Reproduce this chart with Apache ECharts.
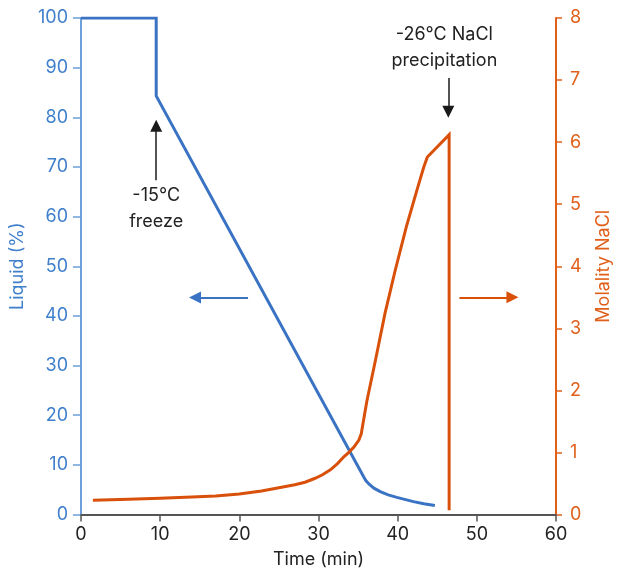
<!DOCTYPE html>
<html>
<head>
<meta charset="utf-8">
<script src="https://cdn.jsdelivr.net/npm/echarts@6/dist/echarts.min.js"></script>
<style>
  html, body { margin: 0; padding: 0; background: #ffffff; }
  #chart { width: 621px; height: 574px; }
</style>
</head>
<body>
<div id="chart"></div>
<script>
// Liquid fraction (%) over time (min), left axis
const liquidPoints = [
  [0, 100], [9.5, 100], [9.5, 84.3], [35.7, 7.6], [36.0, 6.8],
  [36.4, 6.1], [37.0, 5.3], [37.8, 4.6], [38.8, 3.95], [39.9, 3.45],
  [41.0, 3.0], [42.0, 2.6], [43.3, 2.15], [44.7, 1.8]
];

// NaCl molality over time (min), right axis
const molalityPoints = [
  [1.5, 0.23], [6, 0.245], [10, 0.26], [14, 0.28], [17, 0.30],
  [20, 0.33], [22.8, 0.38], [25, 0.43], [27, 0.48], [28.3, 0.52],
  [29.5, 0.58], [30.5, 0.64], [31.5, 0.72], [32.4, 0.82], [33.2, 0.93],
  [33.9, 1.01], [34.5, 1.09], [35.1, 1.2], [35.4, 1.3], [35.6, 1.45],
  [36.1, 1.82], [37.2, 2.49], [38.4, 3.24], [39.7, 3.94], [41.1, 4.64],
  [42.6, 5.3], [43.3, 5.6], [43.75, 5.76], [46.5, 6.12], [46.5, 0.07]
];

// Annotation arrows (start, end) in data units
const freezeArrow = [[9.5, 67.3], [9.5, 78.3]];
const precipArrow = [[46.4, 87.9], [46.4, 81.1]];
const liquidAxisArrow = [[21.1, 43.7], [14.4, 43.7]];
const molalityAxisArrow = [[47.8, 3.5], [54.5, 3.5]];

// Annotation texts with anchor points (left-axis data units)
const notes = [
  { text: '-15°C\nfreeze', at: [9.5, 61.6] },
  { text: '-26°C NaCl\nprecipitation', at: [45.9, 94.1] }
];

const xTicks = { min: 0, max: 60, interval: 10 };
const leftTicks = { min: 0, max: 100, interval: 10 };
const rightTicks = { min: 0, max: 8, interval: 1 };

const BLUE = '#3a73c3';
const BLUE_LABEL = '#3f7fcb';
const BLUE_AXIS = '#6c9fdb';
const ORANGE = '#d9500b';
const ORANGE_LABEL = '#e0601a';
const FONT = 'Inter, Roboto, "Liberation Sans", sans-serif';
const FS = 18;

const chart = echarts.init(document.getElementById('chart'), null, { renderer: 'canvas' });

function arrowLine(pair, color, width) {
  return [
    { coord: pair[0], lineStyle: { color: color, width: width, type: 'solid' }, itemStyle: { color: color } },
    { coord: pair[1] }
  ];
}

const option = {
  animation: false,
  grid: { left: 81, right: 61, top: 18, bottom: 59.5 },
  xAxis: {
    type: 'value',
    min: xTicks.min, max: xTicks.max, interval: xTicks.interval,
    name: 'Time (min)', nameLocation: 'middle', nameGap: 36,
    nameTextStyle: { color: '#222', fontSize: FS, fontFamily: FONT },
    axisLine: { show: true, onZero: false, lineStyle: { color: '#555', width: 2 } },
    axisTick: { show: true, length: 7, lineStyle: { color: '#555', width: 1.5 } },
    axisLabel: { color: '#222', fontSize: FS, fontFamily: FONT, margin: 11 },
    splitLine: { show: false }
  },
  yAxis: [
    {
      type: 'value', position: 'left',
      min: leftTicks.min, max: leftTicks.max, interval: leftTicks.interval,
      name: 'Liquid (%)', nameLocation: 'middle', nameGap: 49, nameRotate: 90,
      nameTextStyle: { color: BLUE_LABEL, fontSize: FS, fontFamily: FONT },
      axisLine: { show: true, lineStyle: { color: BLUE_AXIS, width: 2 } },
      axisTick: { show: true, length: 8, lineStyle: { color: BLUE_AXIS, width: 1.5 } },
      axisLabel: { color: BLUE_LABEL, fontSize: FS, fontFamily: FONT, margin: 13 },
      splitLine: { show: false }
    },
    {
      type: 'value', position: 'right',
      min: rightTicks.min, max: rightTicks.max, interval: rightTicks.interval,
      name: 'Molality NaCl', nameLocation: 'middle', nameGap: 39, nameRotate: 90,
      nameTextStyle: { color: ORANGE_LABEL, fontSize: FS, fontFamily: FONT },
      axisLine: { show: true, lineStyle: { color: ORANGE_LABEL, width: 2 } },
      axisTick: { show: true, length: 6, lineStyle: { color: ORANGE_LABEL, width: 1.5 } },
      axisLabel: { color: ORANGE_LABEL, fontSize: FS, fontFamily: FONT, margin: 14 },
      splitLine: { show: false }
    }
  ],
  series: [
    {
      name: 'Liquid', type: 'line', yAxisIndex: 0,
      data: liquidPoints, showSymbol: false, symbol: 'none',
      lineStyle: { color: BLUE, width: 3, join: 'miter' },
      itemStyle: { color: BLUE },
      markLine: {
        silent: true, symbol: ['none', 'triangle'], symbolSize: 12,
        label: { show: false },
        data: [
          arrowLine(freezeArrow, '#1a1a1a', 1.5),
          arrowLine(precipArrow, '#1a1a1a', 1.5),
          arrowLine(liquidAxisArrow, BLUE, 2)
        ]
      }
    },
    {
      name: 'Molality', type: 'line', yAxisIndex: 1,
      data: molalityPoints, showSymbol: false, symbol: 'none',
      lineStyle: { color: ORANGE, width: 3, join: 'miter' },
      itemStyle: { color: ORANGE },
      markLine: {
        silent: true, symbol: ['none', 'triangle'], symbolSize: 12,
        label: { show: false },
        data: [arrowLine(molalityAxisArrow, ORANGE, 2)]
      }
    }
  ]
};

chart.setOption(option);

// Place annotation texts at their data anchors
const graphics = notes.map(function (n) {
  const p = chart.convertToPixel({ xAxisIndex: 0, yAxisIndex: 0 }, n.at);
  return {
    type: 'text', x: p[0], y: p[1], silent: true,
    style: {
      text: n.text, fill: '#222', fontSize: FS, fontFamily: FONT,
      align: 'center', verticalAlign: 'middle', lineHeight: 26
    }
  };
});
chart.setOption({ graphic: graphics });
</script>
</body>
</html>
